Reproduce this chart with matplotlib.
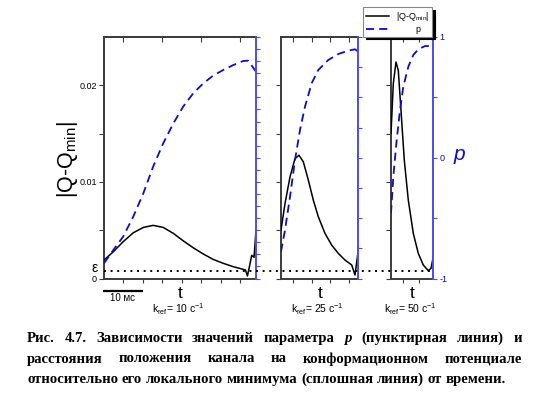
import numpy as np
import matplotlib
matplotlib.use("Agg")
import matplotlib.pyplot as plt
from matplotlib.lines import Line2D
from matplotlib.transforms import blended_transform_factory

plt.rcParams["font.family"] = ["Liberation Sans", "DejaVu Sans"]
plt.rcParams["mathtext.fontset"] = "custom"
plt.rcParams["mathtext.rm"] = "Liberation Sans"
plt.rcParams["mathtext.it"] = "Liberation Sans:italic"

W, H = 533, 399

# --- data (t in ms, |Q-Qmin|, p) ---
t1_q = [0, 2.4, 4.9, 7.5, 10.1, 12.6, 15.2, 17.8, 20.3, 22.9, 25.5, 28.0, 30.6,
        33.2, 35.7, 36.3, 36.8, 37.4, 37.9, 38.5, 39.0]
q1 = [0.00191, 0.00277, 0.00380, 0.00473, 0.00529, 0.00550, 0.00529, 0.00467,
      0.00391, 0.00318, 0.00253, 0.00198, 0.00157, 0.00122, 0.00095, 0.00088,
      0.00026, 0.0014, 0.0024, 0.0022, 0.0050]
t1_p = [0, 2.4, 4.9, 7.5, 10.1, 12.6, 15.2, 17.8, 20.3, 22.9, 25.5, 28.0, 30.6,
        33.2, 35.7, 37.0, 39.0]
p1 = [-0.874, -0.764, -0.654, -0.488, -0.294, -0.074, 0.120, 0.285, 0.423,
      0.534, 0.617, 0.680, 0.727, 0.768, 0.801, 0.804, 0.713]

t2_q = [0, 1.03, 2.31, 3.59, 4.62, 5.73, 7.01, 8.29, 9.57, 11.28, 12.99, 14.69,
        16.41, 18.13, 18.97, 19.82]
q2 = [0.00501, 0.00777, 0.01052, 0.01242, 0.01276, 0.01207, 0.01018, 0.00811,
      0.00639, 0.00467, 0.00346, 0.00260, 0.00191, 0.00140, 0.00036, 0.00295]
t2_p = [0, 1.03, 2.31, 3.59, 4.87, 6.15, 7.86, 9.57, 12.13, 14.69, 17.26,
        18.97, 19.82]
p2 = [-0.778, -0.598, -0.323, -0.019, 0.230, 0.423, 0.617, 0.727, 0.810,
      0.859, 0.887, 0.898, 0.878]

t3_q = [0, 0.59, 1.28, 1.87, 2.56, 3.41, 4.44, 5.72, 7.0, 8.28, 9.56, 10.26,
        10.85]
q3 = [0.01501, 0.02018, 0.02241, 0.02155, 0.01742, 0.01225, 0.00811, 0.00467,
      0.00260, 0.00140, 0.00081, 0.00105, 0.00225]
t3_p = [0, 0.59, 1.46, 2.31, 3.15, 4.44, 5.72, 7.0, 8.72, 10.0, 10.85]
p3 = [-0.460, -0.157, 0.147, 0.395, 0.588, 0.754, 0.851, 0.898, 0.925, 0.925,
      0.892]

eps_level = 0.00081
k_labels = ["10", "25", "50"]

caption = [
    "Рис. 4.7. Зависимости значений параметра p (пунктирная линия) и",
    "расстояния положения канала на конформационном потенциале",
    "относительно его локального минимума (сплошная линия) от времени.",
]

BLUE = "#0a0adc"
SPINE_BLUE = "#4a4aff"
GREY = "#3c3c3c"


def fx(x):
    return x / W


def fy(y):
    return 1 - y / H


fig = plt.figure(figsize=(W / 100, H / 100), dpi=100)

panels = [
    # left px, right px, tmax, data, bottom ticks, top ticks, right ticks
    (104, 256, 39.0, (t1_q, q1, t1_p, p1), np.arange(5, 36, 5), [5, 15, 25, 35],
     np.round(np.arange(-1, 1.01, 0.1), 2)),
    (281, 358.3, 19.82, (t2_q, q2, t2_p, p2), [3.1, 7.9, 12.6, 17.4], [3.1, 7.9, 12.6, 17.4],
     [-1, -0.75, -0.5, -0.25, 0, 0.25, 0.5, 0.75, 1]),
    (391, 433.3, 10.85, (t3_q, q3, t3_p, p3), [3.2, 7.1], [3.2, 7.1],
     [-1, -0.5, 0, 0.5, 1]),
]
top_px, bot_px = 37, 278.5

axes = []
for i, (l, r, tmax, (tq, q, tp, p), bt, tt, rt) in enumerate(panels):
    ax = fig.add_axes([fx(l), fy(bot_px), (r - l) / W, (bot_px - top_px) / H])
    ax.set_facecolor("none")
    ax.plot(tq, q, color="black", lw=1.1, zorder=3)
    ax.set_xlim(0, tmax)
    ax.set_ylim(0, 0.025)
    for s in ["left", "top", "bottom"]:
        ax.spines[s].set_color(GREY)
        ax.spines[s].set_linewidth(1.4)
    ax.spines["right"].set_visible(False)
    ax.set_xticks(bt)
    ax.set_xticklabels([])
    ax.tick_params(axis="x", direction="out", length=3, width=0.8, color=GREY)
    ax.set_yticks([0, 0.005, 0.01, 0.015, 0.02])
    if i == 0:
        ax.set_yticklabels(["0", "", "0.01", "", "0.02"])
    else:
        ax.set_yticklabels([])
    ax.tick_params(axis="y", direction="out", length=3.5, width=0.8, color=GREY,
                   labelsize=6.5, pad=1.5)
    sec = ax.secondary_xaxis("top")
    sec.set_xticks(tt)
    sec.set_xticklabels([])
    sec.tick_params(direction="in", length=3.5, width=0.8, color=GREY)
    sec.spines["top"].set_color(GREY)
    sec.spines["top"].set_linewidth(1.4)

    rx = ax.twinx()
    rx.plot(tp, p, color=BLUE, lw=1.3, linestyle=(0, (4.5, 2.8)))
    rx.set_ylim(-1, 1)
    rx.set_xlim(0, tmax)
    for s in ["left", "top", "bottom"]:
        rx.spines[s].set_visible(False)
    rx.spines["right"].set_color(SPINE_BLUE)
    rx.spines["right"].set_linewidth(1.4)
    rx.set_yticks(rt)
    if i == 2:
        rx.set_yticklabels(["1" if v == 1 else "0" if v == 0 else "-1" if v == -1 else ""
                            for v in rt])
    else:
        rx.set_yticklabels([])
    rx.tick_params(axis="y", direction="out", length=3, width=0.8,
                   color=SPINE_BLUE, labelcolor=BLUE, labelsize=6.5, pad=1.5)
    axes.append(ax)

    cx = (l + r) / 2
    fig.text(fx(cx), fy(298), "t", fontsize=12.5, ha="center", va="baseline")
    fig.text(fx(cx - 2), fy(313),
             r"k$_{\mathregular{ref}}$= " + k_labels[i] + r" c$^{\mathregular{-1}}$",
             fontsize=7.5, ha="center", va="baseline")

# dotted epsilon level across all panels
trans = blended_transform_factory(fig.transFigure, axes[0].transData)
fig.add_artist(Line2D([fx(104), fx(431)], [eps_level, eps_level], transform=trans,
                      color="black", lw=1.4, linestyle=(0, (1, 2.4)), zorder=5))
fig.text(fx(98), fy(268.5), "ε", fontsize=10, ha="right", va="center")

# axis labels
fig.text(fx(68), fy(160), r"|Q-Q$_{\mathregular{min}}$|", fontsize=15.5,
         rotation=90, ha="center", va="center")
fig.text(fx(459), fy(155), "p", fontsize=15, style="italic", color=BLUE,
         ha="center", va="center")

# scale bar
fig.add_artist(Line2D([fx(103), fx(143)], [fy(290.5), fy(290.5)], color="black",
                      lw=1.6, solid_capstyle="butt"))
fig.text(fx(122.5), fy(301), "10 мс", fontsize=7, ha="center", va="baseline")

# legend
handles = [Line2D([], [], color="black", lw=1.1),
           Line2D([], [], color=BLUE, lw=1.3, linestyle=(0, (4.5, 2.8)))]
leg = fig.legend(handles, [r"|Q-Q$_{\mathregular{min}}$|", "        p"],
                 loc="upper left", bbox_to_anchor=(fx(363), fy(7)),
                 fontsize=6.5, frameon=True, fancybox=False,
                 shadow={"color": "black", "alpha": 1},
                 handlelength=2.6, handletextpad=0.8, borderpad=0.3,
                 labelspacing=0.25, borderaxespad=0)
leg.get_frame().set_edgecolor("#888888")
leg.get_frame().set_linewidth(0.8)

# caption, justified like the source
renderer = fig.canvas.get_renderer()
cap_family = ["Liberation Serif", "DejaVu Serif"]
probe = fig.text(0, 0, caption[2], fontsize=12, family=cap_family, weight="bold")
cap_size = 12 * 476 / probe.get_window_extent(renderer).width
probe.remove()

x0, x1 = 27, 522
for j, (line, base) in enumerate(zip(caption, [342, 362.5, 383])):
    words = line.split(" ")
    texts = []
    for w in words:
        texts.append(fig.text(0, fy(base), w, fontsize=cap_size, family=cap_family,
                              weight="bold", style="italic" if w == "p" else "normal",
                              va="baseline", ha="left"))
    widths = [t.get_window_extent(renderer).width for t in texts]
    if j < len(caption) - 1:
        gap = (x1 - x0 - sum(widths)) / (len(words) - 1)
    else:
        sp = fig.text(0, 0, "a a", fontsize=cap_size, family=cap_family, weight="bold")
        sp2 = fig.text(0, 0, "aa", fontsize=cap_size, family=cap_family, weight="bold")
        gap = sp.get_window_extent(renderer).width - sp2.get_window_extent(renderer).width
        sp.remove()
        sp2.remove()
    x = x0
    for t, w in zip(texts, widths):
        t.set_x(fx(x))
        x += w + gap

fig.savefig("out.png", dpi=100)
